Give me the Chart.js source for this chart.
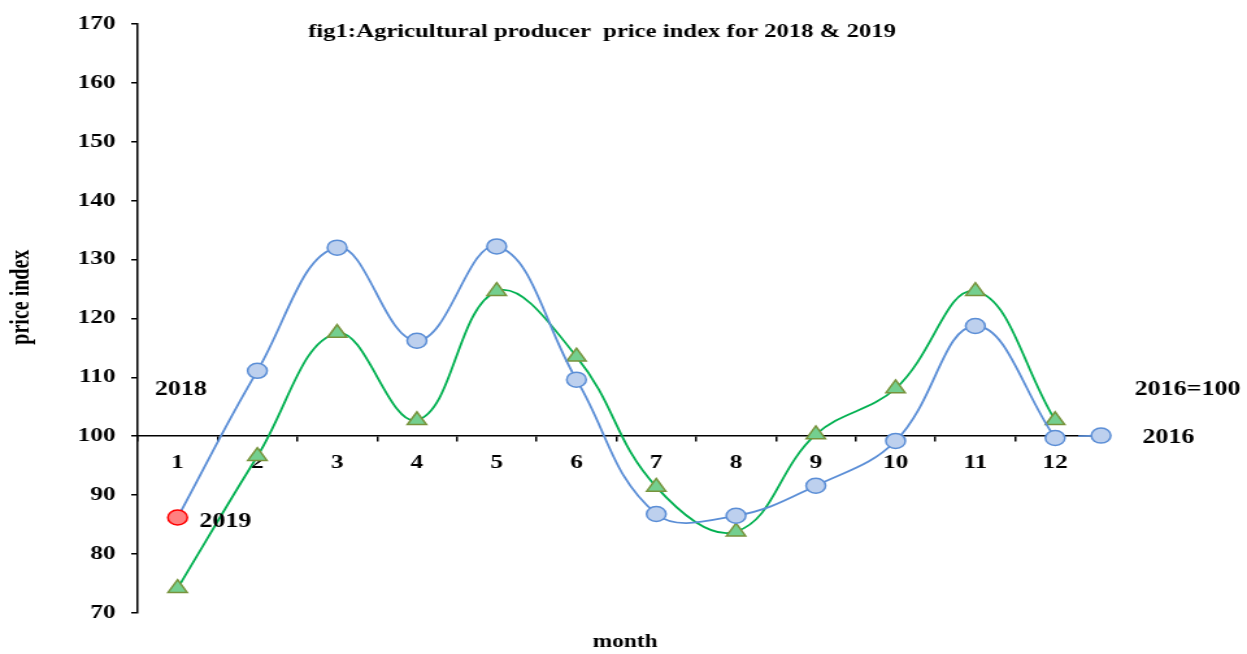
<!DOCTYPE html>
<html>
<head>
<meta charset="utf-8">
<script src="https://cdn.jsdelivr.net/npm/chart.js@4"></script>
<style>
body { margin: 0; background: #fff; }
</style>
</head>
<body>
<!-- drawn narrow and stretched wide, like the original picture -->
<canvas id="chart" width="960" height="654" style="width:1247px;height:654px"></canvas>
<script>
/* ================= DATA ================= */

const months = ["1", "2", "3", "4", "5", "6", "7", "8", "9", "10", "11", "12"];
const series2019 = [86.2, 111.1, 132.0, 116.2, 132.2, 109.6, 86.8, 86.5, 91.6, 99.2, 118.7, 99.7];
const series2018 = [74.2, 96.6, 117.5, 102.7, 124.6, 113.5, 91.4, 83.8, 100.3, 108.1, 124.6, 102.7];
const base2016X = [12.29, 12.575, 12.91];
const base2016Y = [100, 100.1, 100];
const yMin = 70, yMax = 170, yStep = 10;

const titleText = "fig1:Agricultural producer  price index for 2018 & 2019";

/* ================= STYLE ================= */

const serif = "'Liberation Serif', 'Times New Roman', serif";
const blueLine = "#5B8ED6";
const blueFill = "#BDD0EE";
const greenLine = "#00B050";

/* ================= LABELS PLUGIN ================= */

const labelsPlugin = {
    id: "labels",
    afterDraw(chart) {
        const ctx = chart.ctx;
        const x = chart.scales.x2;
        const y = chart.scales.y;
        const put = (text, vx, vy, size) => {
            ctx.save();
            ctx.font = "bold " + size + "px " + serif;
            ctx.fillStyle = "#000";
            ctx.textAlign = "center";
            ctx.textBaseline = "middle";
            ctx.fillText(text, x.getPixelForValue(vx), y.getPixelForValue(vy));
            ctx.restore();
        };
        put(titleText, 6.32, 168.6, 19);
        put("2018", 1.04, 107.9, 20);
        put("2019", 1.60, 85.5, 20);
        put("2016=100", 13.66, 107.9, 20);
        put("2016", 13.42, 99.7, 20);
        put("month", 6.61, 65.1, 18);

        ctx.save();
        ctx.font = "bold 20px " + serif;
        ctx.fillStyle = "#000";
        ctx.textAlign = "center";
        ctx.textBaseline = "middle";
        ctx.translate(x.getPixelForValue(-0.955), y.getPixelForValue(123.6));
        ctx.rotate(-Math.PI / 2);
        ctx.fillText("price index", 0, 0);
        ctx.restore();
    }
};

/* ================= CHART ================= */

const pointFill2019 = series2019.map((v, i) => i === 0 ? "#FF8080" : blueFill);
const pointEdge2019 = series2019.map((v, i) => i === 0 ? "#FF0000" : blueLine);

new Chart(document.getElementById("chart").getContext("2d"), {
    type: "line",
    data: {
        labels: months,
        datasets: [
            {
                label: "2019",
                data: series2019,
                borderColor: blueLine,
                borderWidth: 1.8,
                pointRadius: 7.5,
                pointBackgroundColor: pointFill2019,
                pointBorderColor: pointEdge2019,
                pointBorderWidth: 1.5,
                tension: 0.4
            },
            {
                label: "2018",
                data: series2018,
                borderColor: greenLine,
                borderWidth: 1.8,
                pointStyle: "triangle",
                pointRadius: 8.5,
                pointBackgroundColor: "#74CF8F",
                pointBorderColor: "#77933C",
                pointBorderWidth: 1.5,
                tension: 0.4
            },
            {
                label: "2016",
                xAxisID: "x2",
                data: base2016X.map((v, i) => ({ x: v, y: base2016Y[i] })),
                borderColor: blueLine,
                borderWidth: 1.8,
                pointRadius: [0, 7.5, 0],
                pointBackgroundColor: blueFill,
                pointBorderColor: blueLine,
                pointBorderWidth: 1.5,
                clip: false
            }
        ]
    },
    options: {
        responsive: false,
        animation: false,
        layout: { padding: { top: 19, right: 117, bottom: 41, left: 0 } },
        plugins: { legend: { display: false }, tooltip: { enabled: false } },
        scales: {
            x: {
                type: "category",
                position: { y: 100 },
                offset: true,
                grid: { offset: true, drawOnChartArea: false, tickLength: 5, color: "#000", lineWidth: 1.5 },
                border: { color: "#000", width: 1.5 },
                ticks: { color: "#000", padding: 10, font: { family: serif, size: 19.5, weight: "bold" } }
            },
            x2: {
                type: "linear",
                display: false,
                min: 0.5,
                max: 12.5
            },
            y: {
                min: yMin,
                max: yMax,
                afterFit: s => { s.width = 106; },
                grid: { drawOnChartArea: false, tickLength: 5, color: "#000", lineWidth: 1.5 },
                border: { color: "#000", width: 1.5 },
                ticks: { stepSize: yStep, color: "#000", padding: 12, font: { family: serif, size: 19.5, weight: "bold" } }
            }
        }
    },
    plugins: [labelsPlugin]
});
</script>
</body>
</html>
